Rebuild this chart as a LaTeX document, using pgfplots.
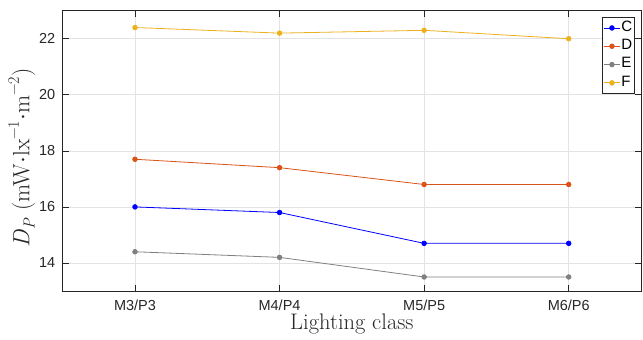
\documentclass[border=0pt]{standalone}
\usepackage{fontspec}
\usepackage{pgfplots}
\pgfplotsset{compat=1.18}
\newfontfamily\arial{Liberation Sans}
\definecolor{cC}{rgb}{0,0,1}
\definecolor{cD}{rgb}{0.851,0.325,0.098}
\definecolor{cE}{rgb}{0.5,0.5,0.5}
\definecolor{cF}{rgb}{0.929,0.694,0.125}
\definecolor{axc}{rgb}{0.15,0.15,0.15}
\newcommand{\smallsz}{\fontsize{16}{18}\selectfont}
\begin{document}
\begin{tikzpicture}
\useasboundingbox (-62.7pt,-49pt) rectangle (580.3pt,291pt);
\begin{axis}[
  at={(0,0)}, anchor=south west,
  scale only axis, width=578.3pt, height=280.3pt,
  xmin=0.5, xmax=4.5, ymin=13, ymax=23,
  xtick={1,2,3,4}, xticklabels={M3/P3,M4/P4,M5/P5,M6/P6},
  ytick={14,16,18,20,22},
  tick align=inside, major tick length=6pt,
  axis line style={axc, line width=0.6pt},
  tick style={axc, line width=0.6pt},
  grid=major, major grid style={black!11, line width=0.6pt},
  ticklabel style={font=\arial\fontsize{14.5}{17}\selectfont, text=axc},
  /pgf/number format/assume math mode=true,
  xticklabel style={yshift=-5pt},
  yticklabel style={xshift=-4pt},
  xlabel={Lighting class},
  ylabel={\textit{D}\raisebox{-0.22em}{\smallsz\textit{P}} (mW$\cdot$lx\raisebox{0.45em}{\smallsz −1}$\cdot$m\raisebox{0.45em}{\smallsz −2})},
  xlabel style={font=\fontsize{22.5}{27}\selectfont, text=axc, at={(rel axis cs:0.5,0)}, anchor=center, yshift=-33pt},
  ylabel style={font=\fontsize{23.5}{28}\selectfont, text=axc, at={(rel axis cs:-0.0709,0.475)}, anchor=center},
  legend style={at={(rel axis cs:0.9896,0.9775)}, anchor=north east,
    draw=axc, line width=0.6pt, font=\arial\fontsize{15}{17}\selectfont,
    inner sep=1.5pt, row sep=0pt,
    nodes={inner sep=1pt, text height=11.3pt, text depth=5pt}},
  legend cell align=left,
  legend image code/.code={\draw[mark repeat=2,mark phase=2] plot coordinates {(0pt,0pt) (8pt,0pt) (16pt,0pt)};},
  every axis plot/.append style={line width=0.8pt, mark=*, mark size=2.3pt},
]
\addplot[cC, mark options={fill=cC, draw=cC}] coordinates {(1,16.0) (2,15.8) (3,14.7) (4,14.7)};
\addlegendentry{C}
\addplot[cD, mark options={fill=cD, draw=cD}] coordinates {(1,17.7) (2,17.4) (3,16.8) (4,16.8)};
\addlegendentry{D}
\addplot[cE, mark options={fill=cE, draw=cE}] coordinates {(1,14.4) (2,14.2) (3,13.5) (4,13.5)};
\addlegendentry{E}
\addplot[cF, mark options={fill=cF, draw=cF}] coordinates {(1,22.4) (2,22.2) (3,22.3) (4,22.0)};
\addlegendentry{F}
\end{axis}
\end{tikzpicture}
\end{document}
